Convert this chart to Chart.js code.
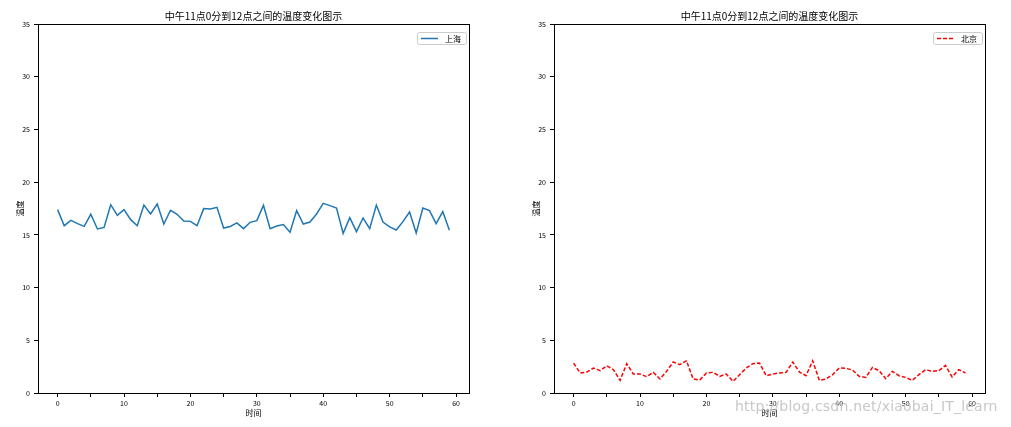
<!DOCTYPE html>
<html>
<head>
<meta charset="utf-8">
<script src="https://cdn.jsdelivr.net/npm/chart.js@4/dist/chart.umd.min.js"></script>
<style>
  body { margin: 0; background: #fff; width: 1011px; height: 427px; overflow: hidden; position: relative; }
  canvas { position: absolute; top: 0; }
  #left { left: 0; }
  #right { left: 516px; }
  #mark { position: absolute; left: 735px; top: 398px; font: 14px "DejaVu Sans", sans-serif; color: #c8c8c8; letter-spacing: 0.2px; }
</style>
</head>
<body>
<canvas id="left" width="516" height="427"></canvas>
<canvas id="right" width="495" height="427"></canvas>
<div id="mark">http://blog.csdn.net/xiaobai_IT_learn</div>
<script>
const CJK = '"Noto Sans CJK SC", "DejaVu Sans", sans-serif';
const chartTitle = "中午11点0分到12点之间的温度变化图示";

// 每分钟的温度
const minutes = Array.from({ length: 60 }, (_, i) => i);
const shanghai = [17.39, 15.87, 16.38, 16.06, 15.8, 16.95, 15.56, 15.71, 17.86, 16.85,
    17.39, 16.44, 15.87, 17.83, 16.98, 17.93, 16.03, 17.33, 16.95, 16.32,
    16.28, 15.87, 17.49, 17.46, 17.61, 15.65, 15.8, 16.13, 15.59, 16.19,
    16.35, 17.8, 15.59, 15.84, 15.97, 15.24, 17.3, 16.03, 16.22, 16.98,
    17.99, 17.77, 17.55, 15.14, 16.63, 15.3, 16.6, 15.59, 17.83, 16.22,
    15.75, 15.46, 16.25, 17.17, 15.18, 17.55, 17.3, 16.06, 17.2, 15.43];
const beijing = [2.84, 1.9, 1.99, 2.37, 2.12, 2.59, 2.21, 1.2, 2.78, 1.8,
    1.8, 1.55, 1.96, 1.33, 2.05, 2.94, 2.69, 3.06, 1.33, 1.23,
    1.9, 1.96, 1.58, 1.8, 1.1, 1.74, 2.37, 2.78, 2.84, 1.64,
    1.8, 1.9, 1.96, 2.94, 1.99, 1.64, 3.06, 1.2, 1.33, 1.74,
    2.37, 2.34, 2.18, 1.58, 1.48, 2.43, 2.12, 1.36, 2.05, 1.64,
    1.48, 1.2, 1.74, 2.21, 2.05, 2.12, 2.62, 1.52, 2.21, 1.9];

const xTickValues = [0, 5, 10, 15, 20, 25, 30, 35, 40, 45, 50, 55, 60];
const xTickLabels = [0, 10, 20, 30, 40, 50, 60];
const yTickValues = [0, 5, 10, 15, 20, 25, 30, 35];

// 标题 + 边框 + 图例 (matplotlib 风格)
const mplDecor = {
    id: "mplDecor",
    afterDraw(chart) {
        const { ctx, chartArea: a } = chart;
        ctx.save();
        ctx.strokeStyle = "#000";
        ctx.lineWidth = 1;
        ctx.strokeRect(a.left + 0.5, a.top + 0.5, a.right - a.left, a.bottom - a.top);

        ctx.fillStyle = "#000";
        ctx.font = "10px " + CJK;
        ctx.textAlign = "center";
        ctx.textBaseline = "middle";
        ctx.fillText(chartTitle, (a.left + a.right) / 2, 16);

        const ds = chart.data.datasets[0];
        ctx.font = "8px " + CJK;
        const tw = ctx.measureText(ds.label).width;
        const w = 4 + 17 + 7 + tw + 5, h = 12;
        const x = a.right - 3 - w, y = a.top + 8;
        ctx.fillStyle = "#fff";
        ctx.strokeStyle = "#ccc";
        ctx.beginPath();
        ctx.roundRect(x + 0.5, y + 0.5, w, h, 2);
        ctx.fill();
        ctx.stroke();
        ctx.strokeStyle = ds.borderColor;
        ctx.lineWidth = ds.borderWidth;
        ctx.setLineDash(ds.borderDash || []);
        ctx.beginPath();
        ctx.moveTo(x + 4, y + h / 2 + 0.5);
        ctx.lineTo(x + 21, y + h / 2 + 0.5);
        ctx.stroke();
        ctx.setLineDash([]);
        ctx.fillStyle = "#000";
        ctx.textAlign = "left";
        ctx.fillText(ds.label, x + 28, y + h / 2 + 1);
        ctx.restore();
    }
};

function makeChart(id, label, values, color, dash, rightPad) {
    return new Chart(document.getElementById(id), {
        type: "line",
        data: {
            datasets: [{
                label: label,
                data: values.map((v, i) => ({ x: minutes[i], y: v })),
                borderColor: color,
                borderWidth: 1.5,
                borderDash: dash,
                pointRadius: 0,
                tension: 0,
                fill: false
            }]
        },
        options: {
            responsive: false,
            animation: false,
            devicePixelRatio: 1,
            layout: { padding: { left: 0, right: rightPad, top: 24, bottom: 0 } },
            plugins: { legend: { display: false }, title: { display: false }, tooltip: { enabled: false } },
            scales: {
                x: {
                    type: "linear",
                    min: -2.95,
                    max: 61.95,
                    afterBuildTicks: s => { s.ticks = xTickValues.map(v => ({ value: v })); },
                    afterFit: s => { s.height = 34; },
                    ticks: {
                        autoSkip: false,
                        maxRotation: 0,
                        padding: 2,
                        color: "#000",
                        font: { size: 7, family: CJK },
                        callback: v => xTickLabels.includes(v) ? String(v) : ""
                    },
                    grid: { drawOnChartArea: false, tickLength: 4, color: "#000" },
                    border: { color: "#000" },
                    title: { display: true, text: "时间", color: "#000", font: { size: 8, family: CJK }, padding: { top: 0, bottom: 9 } }
                },
                y: {
                    min: 0,
                    max: 35,
                    afterBuildTicks: s => { s.ticks = yTickValues.map(v => ({ value: v })); },
                    afterFit: s => { s.width = 38; },
                    ticks: { padding: 4, color: "#000", font: { size: 7, family: CJK } },
                    grid: { drawOnChartArea: false, tickLength: 4, color: "#000" },
                    border: { color: "#000" },
                    title: { display: true, text: "温度", color: "#000", font: { size: 8, family: CJK }, padding: { top: 15, bottom: 0 } }
                }
            }
        },
        plugins: [mplDecor]
    });
}

makeChart("left", "上海", shanghai, "#1f77b4", [], 47);
makeChart("right", "北京", beijing, "#ff0000", [4, 2], 26);
</script>
</body>
</html>
